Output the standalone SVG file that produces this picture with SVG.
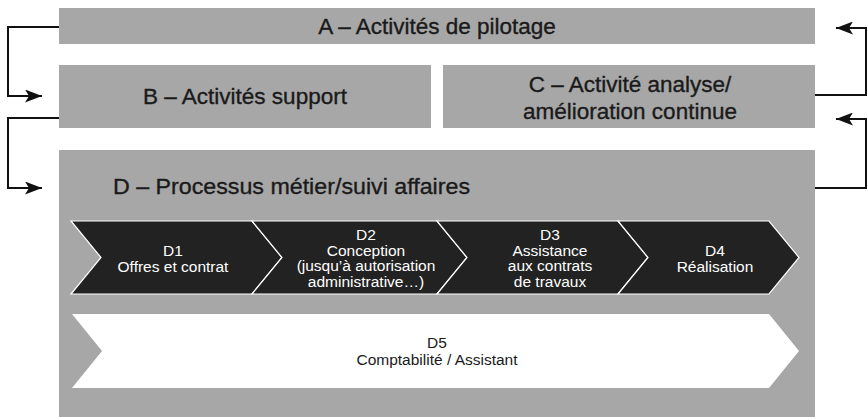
<svg xmlns="http://www.w3.org/2000/svg" width="868" height="417" viewBox="0 0 868 417">
<defs>
<style>
.box{fill:#a7a7a7;}
.t{font-family:"Liberation Sans",Arial,sans-serif;font-size:22.5px;fill:#1a1a1a;stroke:#1a1a1a;stroke-width:0.35;}
.s{font-family:"Liberation Sans",Arial,sans-serif;font-size:15.5px;fill:#ffffff;text-anchor:middle;}
.d5{font-family:"Liberation Sans",Arial,sans-serif;font-size:15.5px;fill:#1a1a1a;text-anchor:middle;}
.chev{fill:#222222;stroke:#ffffff;stroke-width:1.2;}
.conn{fill:none;stroke:#111111;stroke-width:2;}
</style>
<marker id="arr" viewBox="0 0 17 13" refX="17" refY="6.5" markerWidth="17" markerHeight="13" markerUnits="userSpaceOnUse" orient="auto">
<path d="M0,0 L17,6.5 L0,13 L4,6.5 Z" fill="#111111"/>
</marker>
</defs>
<rect width="868" height="417" fill="#ffffff"/>
<g id="nodeA">
<rect class="box" x="59" y="8" width="756" height="36"/>
<text class="t" x="437" y="34" text-anchor="middle">A – Activités de pilotage</text>
</g>
<g id="nodeB">
<rect class="box" x="59" y="65" width="372" height="63"/>
<text class="t" x="245" y="104" text-anchor="middle">B – Activités support</text>
</g>
<g id="nodeC">
<rect class="box" x="443" y="65" width="372" height="63"/>
<text class="t" x="630" y="92" text-anchor="middle">C – Activité analyse/</text>
<text class="t" x="630" y="119" text-anchor="middle">amélioration continue</text>
</g>
<g id="nodeD">
<rect class="box" x="59" y="150" width="756" height="267"/>
<text class="t" x="113" y="194" textLength="357" lengthAdjust="spacingAndGlyphs">D – Processus métier/suivi affaires</text>
</g>
<g id="nodeD1">
<path class="chev" d="M71,221 L252,221 L282,257.5 L252,294 L71,294 L101,257.5 Z"/>
<text class="s" x="173" y="256">D1</text>
<text class="s" x="173" y="272">Offres et contrat</text>
</g>
<g id="nodeD2">
<path class="chev" d="M252,221 L437,221 L467,257.5 L437,294 L252,294 L282,257.5 Z"/>
<text class="s" x="366" y="240">D2</text>
<text class="s" x="366" y="255.5">Conception</text>
<text class="s" x="366" y="271">(jusqu’à autorisation</text>
<text class="s" x="366" y="286.5">administrative…)</text>
</g>
<g id="nodeD3">
<path class="chev" d="M437,221 L618,221 L648,257.5 L618,294 L437,294 L467,257.5 Z"/>
<text class="s" x="550" y="240">D3</text>
<text class="s" x="550" y="255.5">Assistance</text>
<text class="s" x="550" y="271">aux contrats</text>
<text class="s" x="550" y="286.5">de travaux</text>
</g>
<g id="nodeD4">
<path class="chev" d="M618,221 L769,221 L799,257.5 L769,294 L618,294 L648,257.5 Z"/>
<text class="s" x="715" y="256">D4</text>
<text class="s" x="715" y="272">Réalisation</text>
</g>
<g id="nodeD5">
<path d="M72,314 L769,314 L799,351 L769,388 L72,388 L102,351 Z" fill="#ffffff"/>
<text class="d5" x="437" y="348">D5</text>
<text class="d5" x="437" y="365">Comptabilité / Assistant</text>
</g>
<g id="connectors">
<path class="conn" d="M59,27 H8 V96 H42" marker-end="url(#arr)"/>
<path class="conn" d="M59,118 H8 V188 H42" marker-end="url(#arr)"/>
<path class="conn" d="M815,95 H866 V28 H836" marker-end="url(#arr)"/>
<path class="conn" d="M815,188 H866 V119 H836" marker-end="url(#arr)"/>
</g>
</svg>
